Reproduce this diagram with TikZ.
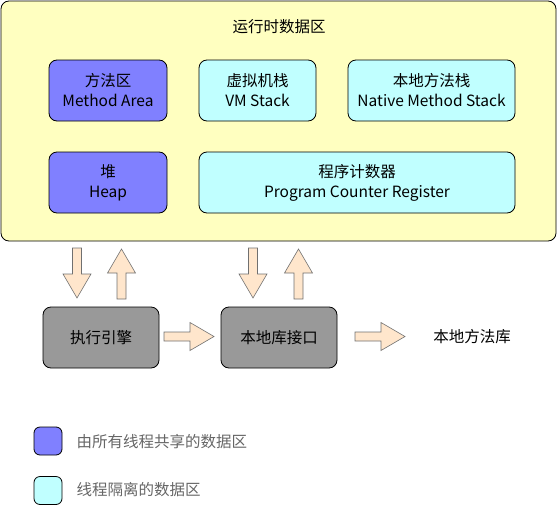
\documentclass[tikz,border=0pt]{standalone}
\usepackage{fontspec}
\setmainfont{Noto Sans CJK SC}
\usetikzlibrary{positioning}
\definecolor{areayellow}{HTML}{FFFFC0}
\definecolor{sharedblue}{HTML}{8080FF}
\definecolor{privatecyan}{HTML}{C0FFFF}
\definecolor{enginegray}{HTML}{999999}
\definecolor{arrowpeach}{HTML}{FFE6CC}
\definecolor{arrowedge}{HTML}{707070}
\definecolor{legendgray}{HTML}{666666}
\tikzset{
    region/.style={draw, rounded corners=8pt, line width=0.8pt, align=center,
    font=\fontsize{15.5}{20}\selectfont, inner sep=0pt, outer sep=0pt},
    shared/.style={region, fill=sharedblue},
    private/.style={region, fill=privatecyan},
    engine/.style={region, fill=enginegray},
    caption/.style={font=\fontsize{15.5}{20}\selectfont},
    legendkey/.style={draw, rounded corners=6pt, line width=0.8pt, minimum size=28, inner sep=0pt},
    legendtext/.style={font=\fontsize{15.5}{20}\selectfont, text=legendgray, anchor=west},
    pics/blockarrow/.style={code={
        \draw[fill=arrowpeach, draw=arrowedge, line width=0.6pt]
        (0,-4.5) -- (26,-4.5) -- (26,-14) -- (50,0) -- (26,14) -- (26,4.5) -- (0,4.5) -- cycle;}},
}
\begin{document}
\begin{tikzpicture}[x=1pt, y=-1pt]
            \useasboundingbox (0,0) rectangle (559,506);
            % --- runtime data area ---
            \node[region, fill=areayellow, minimum width=555, minimum height=240] (runtime) at (278.5,121) {};
            \node[caption] (title) at (279,27) {运行时数据区};
            \node[shared, minimum width=118, minimum height=61] (method) at (108,90.5) {方法区\\Method Area};
            \node[private, minimum width=117, minimum height=61] (vmstack) at (257.5,90.5) {虚拟机栈\\VM Stack};
            \node[private, minimum width=167, minimum height=61] (native) at (431.5,90.5) {本地方法栈\\Native Method Stack};
            \node[shared, minimum width=118, minimum height=61] (heap) at (108,182.5) {堆\\Heap};
            \node[private, minimum width=316, minimum height=61] (counter) at (357,182.5) {程序计数器\\Program Counter Register};
            % --- engine and native interface ---
            \node[engine, minimum width=116, minimum height=61] (engine) at (101,337.5) {执行引擎};
            \node[engine, minimum width=116, minimum height=61] (jni) at (279,337.5) {本地库接口};
            \node[caption] (nativelib) at (472,337) {本地方法库};
            \pic[rotate=-90] (engdown) at (77,248) {blockarrow};
            \pic[rotate=90] (engup) at (121.5,299) {blockarrow};
            \pic[rotate=-90] (jnidown) at (253,248) {blockarrow};
            \pic[rotate=90] (jniup) at (298.5,299) {blockarrow};
            \pic (engtojni) at (164,336.5) {blockarrow};
            \pic (jnitolib) at (355,336.5) {blockarrow};
            % --- legend ---
            \node[legendkey, fill=sharedblue] (keyshared) at (48,441) {};
            \node[legendtext] (txtshared) at (73,442) {由所有线程共享的数据区};
            \node[legendkey, fill=privatecyan] (keyprivate) at (48,490.5) {};
            \node[legendtext] (txtprivate) at (73,490) {线程隔离的数据区};
        \end{tikzpicture}
\end{document}
